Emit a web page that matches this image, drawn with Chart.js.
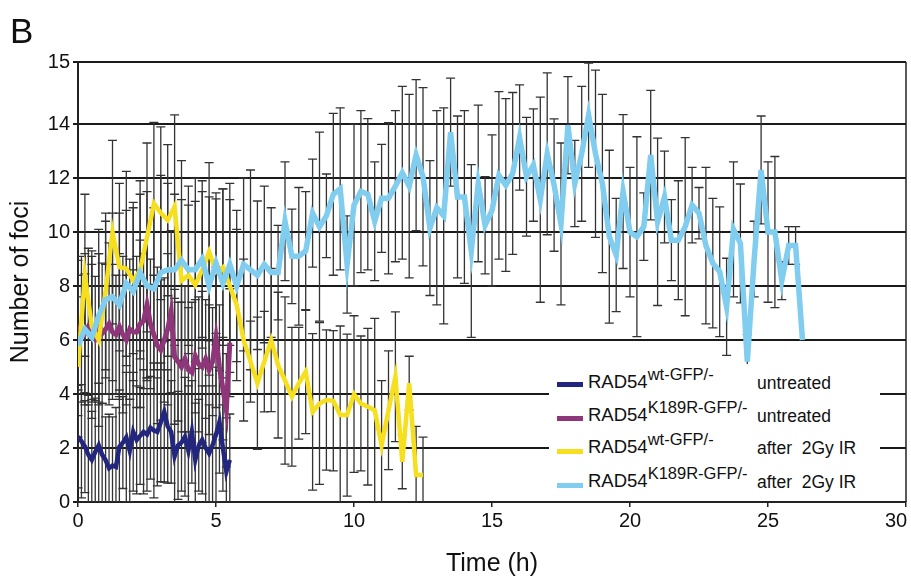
<!DOCTYPE html>
<html>
<head>
<meta charset="utf-8">
<script src="https://cdn.jsdelivr.net/npm/chart.js@4.4.1/dist/chart.umd.min.js"></script>
<style>
  html, body { margin: 0; padding: 0; background: #fff; }
  #wrap { position: relative; width: 911px; height: 576px; font-family: "Liberation Sans", Arial, sans-serif; color: #111; }
  #panel { position: absolute; left: 10px; top: 11px; font-size: 35px; }
  #legend { position: absolute; left: 549px; top: 364px; width: 331px; height: 137px; background: #fff; }
  .sw { position: absolute; left: 8px; width: 26px; height: 4.5px; }
  .name { position: absolute; left: 39px; font-size: 18.5px; line-height: 18px; white-space: nowrap; }
  .name sup { font-size: 16.5px; vertical-align: baseline; position: relative; top: -8px; }
  .cond { position: absolute; left: 208px; font-size: 17.5px; line-height: 18px; white-space: pre; }
</style>
</head>
<body>
<div id="wrap">
  <canvas id="chart" width="911" height="576"></canvas>
  <div id="panel">B</div>
  <div id="legend"></div>
</div>
<script>
// time grids (h)
const blueStart = 0, blueStep = 0.125;
const lbStart = 0, lbStep = 0.25;

// RAD54 wt-GFP/- untreated (navy)
const wtUntreated = [2.42, 2.25, 2.05, 1.75, 1.56, 1.85, 2.1, 1.75, 1.55, 1.25, 1.35, 1.3, 2.05, 2.2, 2.4,
  1.9, 2.6, 2.3, 2.45, 2.6, 2.5, 2.75, 2.65, 2.6, 2.95, 3.34, 2.8, 2.6, 1.7, 2.1, 2.2, 2.42, 1.9, 2.6,
  1.56, 2.1, 2.3, 2.0, 1.8, 2.1, 2.5, 2.97, 2.0, 1.12, 1.56];
const wtUntreatedSD = [1.9, 2.1, 1.7, 2.2, 1.8, 2.0, 2.3, 1.9, 1.6, 2.0, 1.8, 2.2, 2.1, 1.7, 2.4, 1.9,
  2.2, 2.0, 1.8, 2.3, 2.1, 1.9, 2.5, 2.0, 2.2, 2.6, 2.1, 1.9, 2.3, 2.0, 1.8, 2.2, 2.4, 1.9, 2.1, 1.7,
  2.0, 2.3, 1.8, 2.2, 2.5, 1.9, 1.6, 2.0, 1.7];

// RAD54 K189R-GFP/- untreated (purple)
const kUntreated = [6.55, 6.4, 6.25, 6.5, 6.3, 6.06, 6.4, 6.25, 6.4, 6.6, 6.3, 6.2, 6.5, 6.2, 6.0, 6.4,
  6.3, 6.3, 6.6, 6.7, 7.3, 6.6, 6.2, 5.8, 5.63, 6.0, 6.4, 7.05, 5.38, 5.2, 5.0, 5.3, 4.9, 4.8, 5.4, 5.1,
  5.0, 5.3, 4.9, 5.2, 6.1, 5.0, 4.2, 3.4, 5.9];
const kUntreatedSD = [2.4, 2.7, 2.2, 2.9, 2.5, 2.3, 2.8, 2.6, 2.4, 3.0, 2.5, 2.2, 2.7, 2.9, 2.4, 2.6,
  2.3, 2.8, 3.1, 2.5, 2.7, 2.4, 2.2, 2.9, 2.6, 2.3, 2.8, 3.0, 2.5, 2.2, 2.4, 2.7, 2.3, 2.6, 2.1, 2.5,
  2.8, 2.2, 2.4, 2.0, 2.6, 2.3, 1.9, 2.1, 2.0];

// RAD54 wt-GFP/- after 2Gy IR (yellow)
const wtIR = [5.0, 8.4, 6.5, 6.0, 7.8, 10.0, 8.7, 8.65, 8.2, 8.6, 9.8, 11.06, 10.7, 10.44, 10.94, 8.2,
  8.4, 8.04, 8.6, 9.27, 8.53, 8.7, 8.0, 7.3, 6.0,
  5.2, 4.4, 5.2, 6.0, 5.07, 4.5, 3.9, 4.4, 4.83, 3.34, 3.65, 3.78, 3.75, 3.22, 3.22, 4.0, 3.65, 3.53,
  3.4, 2.1, 3.4, 4.64, 1.49, 4.4, 1.0, 1.0];
const wtIRSD = [2.6, 3.0, 2.8, 3.2, 2.9, 3.4, 3.1, 3.6, 2.7, 3.3, 3.5, 3.0, 3.2, 2.8, 3.4, 3.0, 2.6,
  3.1, 2.9, 3.3, 2.7, 2.9, 3.2, 2.8, 3.0,
  1.5, 2.45, 1.86, 2.65, 2.7, 3.1, 2.57, 2.07, 2.3, 2.9, 3.0, 2.6, 2.6, 3.3, 3.0, 2.9, 2.5, 2.9, 3.4,
  2.4, 2.2, 2.4, 1.0, 1.0, 1.8, 1.4];

// RAD54 K189R-GFP/- after 2Gy IR (light blue)
const kIR = [5.8, 6.4, 6.1, 6.9, 7.5, 7.6, 7.3, 8.1, 7.8, 8.5, 8.0, 7.9, 8.5, 8.6, 8.6, 8.95, 8.6, 8.6,
  9.0, 8.0, 8.85, 8.1, 8.8, 8.0, 8.8,
  8.6, 8.4, 8.8, 8.5, 8.5, 10.4, 9.1, 9.1, 9.3, 10.7, 10.2, 10.6, 11.4, 11.6, 8.8, 11.0, 11.5, 11.4,
  10.4, 11.25, 11.25, 11.7, 12.2, 11.7, 12.85, 12.05, 10.15, 10.9, 10.6, 13.7, 11.3, 11.3, 9.3, 11.8,
  10.25, 10.8, 12.1,
  11.74, 12.17, 13.5, 12.05, 12.48, 11.2, 12.9, 11.74, 10.3, 13.96, 11.8, 12.9, 14.33, 12.9, 11.8, 9.83,
  9.15, 11.5, 10.0, 9.83, 10.2, 12.85, 10.38, 11.3, 9.7, 9.7, 10.2, 11.0, 10.7, 9.5, 8.85, 8.53, 7.23,
  10.1, 9.58, 5.2, 9.0, 12.3, 10.0, 10.0, 8.2, 9.5, 9.5, 6.0];
const kIRSD = [2.6, 2.8, 3.0, 3.2, 2.9, 3.1, 3.4, 2.7, 3.3, 2.9, 3.5, 3.0, 3.6, 3.2, 2.8, 3.7, 3.1, 3.4,
  2.9, 3.3, 2.6, 3.5, 3.0, 2.8, 3.2,
  3.7, 2.75, 2.9, 2.4, 1.75, 2.2, 1.75, 2.55, 2.2, 2.0, 3.5, 1.55, 3.0, 3.0, 1.8, 3.0, 3.0, 2.8, 2.2,
  2.0, 2.8, 2.8, 3.2, 3.4, 2.8, 3.3, 2.5, 3.6, 4.0, 2.0, 3.0, 3.2, 3.2, 2.9, 1.8, 2.8, 3.1,
  3.2, 3.0, 1.95, 2.2, 2.08, 3.8, 3.0, 2.45, 3.0, 1.8, 1.6, 2.5, 1.93, 3.1, 3.3, 3.2, 2.1, 2.85, 2.4,
  3.7, 1.25, 2.4, 3.1, 1.7, 1.5, 2.2, 3.3, 1.4, 0.95, 2.9, 2.4, 2.4, 1.8,
  2.5, 2.2, 1.0, 1.4, 2.0, 2.6, 2.8, 0.7, 0.7, 0.7, 0];

// axis ticks; the top gridline sits at 16.3 but is labelled 15 in the figure
const xTicks = [0, 5, 10, 15, 20, 25, 30];
const yTicks = [0, 2, 4, 6, 8, 10, 12, 14, 16.3];
const yTickLabels = ['0', '2', '4', '6', '8', '10', '12', '14', '15'];

const legendItems = [
  { color: '#22267f', name: 'wt-GFP/-', cond: 'untreated' },
  { color: '#8f3579', name: 'K189R-GFP/-', cond: 'untreated' },
  { color: '#f5df1e', name: 'wt-GFP/-', cond: 'after  2Gy IR' },
  { color: '#80cdef', name: 'K189R-GFP/-', cond: 'after  2Gy IR' }
];

function toPoints(values, start, step) {
  return values.map((v, i) => ({ x: start + i * step, y: v }));
}

// error bars go under the lines
const errorBars = {
  id: 'errorBars',
  beforeDatasetsDraw(chart) {
    const { ctx, chartArea, scales } = chart;
    ctx.save();
    ctx.beginPath();
    ctx.rect(chartArea.left, chartArea.top - 1, chartArea.right - chartArea.left, chartArea.bottom - chartArea.top + 1);
    ctx.clip();
    ctx.strokeStyle = '#333';
    ctx.lineWidth = 1.3;
    const cap = 4.5;
    chart.data.datasets.forEach(ds => {
      ds.data.forEach((p, i) => {
        const sd = ds.sd[i];
        if (!sd) return;
        const x = scales.x.getPixelForValue(p.x);
        const y1 = scales.y.getPixelForValue(p.y + sd);
        const y2 = scales.y.getPixelForValue(p.y - sd);
        ctx.beginPath();
        ctx.moveTo(x, y1); ctx.lineTo(x, y2);
        ctx.moveTo(x - cap, y1); ctx.lineTo(x + cap, y1);
        ctx.moveTo(x - cap, y2); ctx.lineTo(x + cap, y2);
        ctx.stroke();
      });
    });
    ctx.restore();
  }
};

const frame = {
  id: 'frame',
  afterDraw(chart) {
    const { ctx, chartArea } = chart;
    ctx.save();
    ctx.strokeStyle = '#222';
    ctx.lineWidth = 1.5;
    ctx.beginPath();
    ctx.moveTo(chartArea.right, chartArea.top);
    ctx.lineTo(chartArea.right, chartArea.bottom);
    ctx.stroke();
    ctx.restore();
  }
};

const ctx = document.getElementById('chart');
new Chart(ctx, {
  type: 'line',
  data: {
    datasets: [
      { label: 'wt untreated', data: toPoints(wtUntreated, blueStart, blueStep), sd: wtUntreatedSD,
        borderColor: legendItems[0].color, borderWidth: 4.5, order: 4 },
      { label: 'K189R untreated', data: toPoints(kUntreated, blueStart, blueStep), sd: kUntreatedSD,
        borderColor: legendItems[1].color, borderWidth: 5, order: 3 },
      { label: 'wt 2Gy', data: toPoints(wtIR, lbStart, lbStep), sd: wtIRSD,
        borderColor: legendItems[2].color, borderWidth: 4.5, order: 2 },
      { label: 'K189R 2Gy', data: toPoints(kIR, lbStart, lbStep), sd: kIRSD,
        borderColor: legendItems[3].color, borderWidth: 5.5, order: 1 }
    ].map(ds => ({ ...ds, pointRadius: 0, tension: 0, fill: false }))
  },
  options: {
    responsive: false,
    animation: false,
    layout: { padding: { top: 62, right: 5, left: 0, bottom: 0 } },
    plugins: { legend: { display: false }, tooltip: { enabled: false } },
    scales: {
      x: {
        type: 'linear', min: 0, max: 30,
        afterBuildTicks: s => { s.ticks = xTicks.map(v => ({ value: v })); },
        ticks: {
          color: '#111', font: { family: 'Liberation Sans', size: 20 }, padding: 2, maxRotation: 0,
          callback: v => v === 30 ? '30\u2003' : String(v)
        },
        grid: { drawOnChartArea: false, color: '#222', lineWidth: 1.5, tickLength: 5 },
        border: { color: '#222', width: 2 },
        title: { display: true, text: 'Time (h)', color: '#111', font: { family: 'Liberation Sans', size: 25 }, padding: { top: 0, bottom: -3 } },
        afterFit: s => { s.height = 74; s.paddingLeft = 0; s.paddingRight = 0; }
      },
      y: {
        min: 0, max: 16.3,
        afterBuildTicks: s => { s.ticks = yTicks.map(v => ({ value: v })); },
        ticks: {
          color: '#111', font: { family: 'Liberation Sans', size: 20 }, padding: 3,
          callback: (v, i) => yTickLabels[i]
        },
        grid: { color: '#1a1a1a', lineWidth: 2, tickLength: 5 },
        border: { color: '#222', width: 2 },
        title: { display: true, text: 'Number of foci', color: '#111', font: { family: 'Liberation Sans', size: 25 }, padding: { top: 6, bottom: 0 } },
        afterFit: s => { s.width = 78; s.paddingTop = 0; s.paddingBottom = 0; }
      }
    }
  },
  plugins: [errorBars, frame]
});

// legend with superscript names, drawn as HTML over the plot
const legend = document.getElementById('legend');
const swatchTops = [18, 52, 85, 119];
const textTops = [9, 42, 74, 108];
legendItems.forEach((item, i) => {
  const sw = document.createElement('div');
  sw.className = 'sw';
  sw.style.top = swatchTops[i] + 'px';
  sw.style.background = item.color;
  legend.appendChild(sw);
  const name = document.createElement('div');
  name.className = 'name';
  name.style.top = textTops[i] + 'px';
  name.innerHTML = 'RAD54<sup>' + item.name + '</sup>';
  legend.appendChild(name);
  const cond = document.createElement('div');
  cond.className = 'cond';
  cond.style.top = (textTops[i] + 1) + 'px';
  cond.textContent = item.cond;
  legend.appendChild(cond);
});
</script>
</body>
</html>
